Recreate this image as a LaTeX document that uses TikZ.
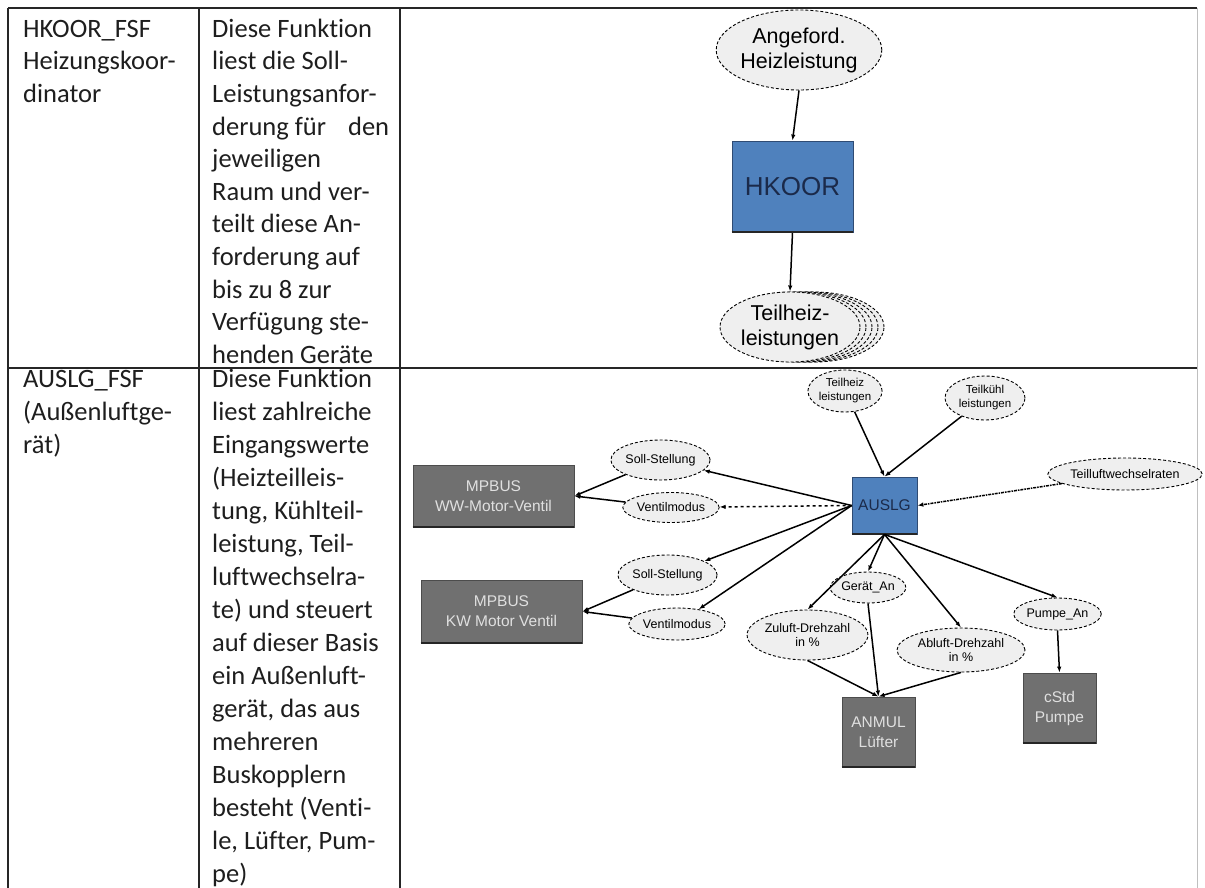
\documentclass[tikz,border=0pt]{standalone}
\usepackage{fontspec}
\setmainfont{Carlito}[Ligatures=NoCommon]
\newfontfamily\diagfont{Liberation Sans}
\usetikzlibrary{arrows.meta,shapes.geometric}

\definecolor{boxblue}{HTML}{4F81BD}
\definecolor{boxblueedge}{HTML}{2F4B73}
\definecolor{boxgray}{HTML}{707070}
\definecolor{ovalfill}{HTML}{EFEFEF}
\definecolor{inktext}{HTML}{1E1E1E}
\definecolor{navytext}{HTML}{1B2A4A}

\begin{document}
\begin{tikzpicture}[x=1pt,y=-1pt,
  rule/.style={line width=1.4pt, draw=black!85},
  celltext/.style={anchor=north west, align=left, inner sep=0pt, text=inktext},
  oval/.style={ellipse, draw=black, densely dashed, line width=0.9pt, fill=ovalfill,
    inner sep=0pt, align=center, font=\diagfont\fontsize{12.5}{14.5}\selectfont},
  bigoval/.style={oval, font=\diagfont\fontsize{21.5}{25}\selectfont},
  bluebox/.style={rectangle, draw=boxblueedge, line width=0.8pt, fill=boxblue,
    text=navytext, inner sep=0pt},
  graybox/.style={rectangle, draw=black!70, line width=0.8pt, fill=boxgray,
    text=white!88!black, inner sep=0pt, align=center,
    font=\diagfont\fontsize{15.5}{20}\selectfont},
  baseedge/.style={line width=2pt, draw=black!85},
  link/.style={line width=1.5pt, draw=black},
  flow/.style={link, -{Latex[length=6pt,width=4.5pt]}},
]
\useasboundingbox (0,0) rectangle (1205,888);

% table grid
\draw[rule] (8,8) -- (1197,8);
\draw[rule] (8,368) -- (1197,368);
\draw[rule] (8,8) -- (8,888);
\draw[rule] (199,8) -- (199,888);
\draw[rule] (400,8) -- (400,888);
\draw[line width=1pt, black!25] (1197,8) -- (1197,888);

% first row: text cells (first baseline at y = 37)
\node[celltext, font=\fontsize{26.5}{32.6}\selectfont] (name1) at (23,14.2)
  {\strut HKOOR\_FSF\\Heizungskoor-\\dinator};
\node[celltext, font=\fontsize{26.5}{32.6}\selectfont] (desc1) at (212,14.2)
  {\strut Diese Funktion\\liest die Soll-\\Leistungsanfor-\\derung für\hspace{22pt}den\\jeweiligen\\Raum und ver-\\teilt diese An-\\forderung auf\\bis zu 8 zur\\Verfügung ste-\\henden Geräte};

% second row: text cells (first baseline at y = 387)
\node[celltext, font=\fontsize{26.5}{33}\selectfont] (name2) at (23,363.9)
  {\strut AUSLG\_FSF\\(Außenluftge-\\rät)};
\node[celltext, font=\fontsize{26.5}{33}\selectfont] (desc2) at (212,363.9)
  {\strut Diese Funktion\\liest zahlreiche\\Eingangswerte\\(Heizteilleis-\\tung, Kühlteil-\\leistung, Teil-\\luftwechselra-\\te) und steuert\\auf dieser Basis\\ein Außenluft-\\gerät, das aus\\mehreren\\Buskopplern\\besteht (Venti-\\le, Lüfter, Pum-\\pe)};

% first row: heating coordinator
\node[bigoval, minimum width=158pt, minimum height=80pt] (angef) at (799,50)
  {Angeford.\\Heizleistung};
\node[bluebox, minimum width=121pt, minimum height=91pt,
  font=\diagfont\fontsize{26}{30}\selectfont] (hkoor) at (792.5,186.5) {HKOOR};
\foreach \dx in {24,18,12,6}
  \node[bigoval, minimum width=140pt, minimum height=70pt] (stack\dx) at (790+\dx,327) {};
\node[bigoval, minimum width=140pt, minimum height=70pt] (teilheizA) at (790,327)
  {Teilheiz-\\leistungen};
\draw[flow] (angef.south) -- (hkoor.north);
\draw[flow] (hkoor.south) -- (teilheizA.north);

% second row: outdoor air unit
\node[oval, minimum width=74pt, minimum height=42pt,
  font=\diagfont\fontsize{11.5}{14}\selectfont] (theiz) at (845,391) {Teilheiz\\leistungen};
\node[oval, minimum width=80pt, minimum height=44pt,
  font=\diagfont\fontsize{11.5}{14}\selectfont] (tkuehl) at (985,398) {Teilkühl\\leistungen};
\node[oval, minimum width=121pt, minimum height=32pt] (tluft) at (1125,474) {Teilluftwechselraten};
\node[bluebox, minimum width=65pt, minimum height=57pt,
  font=\diagfont\fontsize{15.5}{18}\selectfont] (auslg) at (884.5,505.5) {AUSLG};

\node[graybox, minimum width=161pt, minimum height=62pt] (wwv) at (493.5,496) {MPBUS\\WW-Motor-Ventil};
\node[oval, minimum width=79pt, minimum height=40pt] (wwsoll) at (660.5,460) {Soll-Stellung};
\node[oval, minimum width=82pt, minimum height=30pt] (wwmod) at (671,507.5) {Ventilmodus};

\node[graybox, minimum width=161pt, minimum height=63pt] (kwv) at (501.5,611.5) {MPBUS\\KW Motor Ventil};
\node[oval, minimum width=79pt, minimum height=40pt] (kwsoll) at (667.5,575) {Soll-Stellung};
\node[oval, minimum width=76pt, minimum height=32pt] (kwmod) at (677,624) {Ventilmodus};

\node[oval, minimum width=60pt, minimum height=31pt] (geraet) at (868,587.5) {Gerät\_An};
\node[oval, minimum width=119pt, minimum height=50pt] (zuluft) at (807.5,635) {Zuluft-Drehzahl\\in \%};
\node[oval, minimum width=128pt, minimum height=44pt] (abluft) at (961,650) {Abluft-Drehzahl\\in \%};
\node[oval, minimum width=79pt, minimum height=32pt] (pumpan) at (1057.5,614) {Pumpe\_An};

\node[graybox, minimum width=73pt, minimum height=70pt] (anmul) at (878.5,732) {ANMUL\\Lüfter};
\node[graybox, minimum width=73pt, minimum height=70pt] (cstd) at (1059.5,708) {cStd\\Pumpe};

\foreach \b in {hkoor,auslg,wwv,kwv,anmul,cstd}
  \draw[baseedge] (\b.south west) -- (\b.south east);

% inputs
\draw[flow] (theiz) -- (auslg.north);
\draw[flow] (tkuehl) -- (auslg.north);
\draw[flow, densely dashdotted] (tluft) -- (auslg.east);
% valve outputs
\draw[flow] (auslg.west) -- (wwsoll);
\draw[flow, dashed] (auslg.west) -- (wwmod);
\draw[flow] (auslg.west) -- (kwsoll);
\draw[flow] (auslg.west) -- (kwmod);
\draw[flow] (wwsoll) -- (wwv.east);
\draw[flow] (wwmod) -- (wwv.east);
\draw[flow] (kwsoll) -- (kwv.east);
\draw[flow] (kwmod) -- (kwv.east);
% fan and pump outputs
\draw[flow] (auslg.south) -- (zuluft.north);
\draw[flow] (auslg.south) -- (geraet.north);
\draw[flow] (auslg.south) -- (abluft.north);
\draw[flow] (auslg.south) -- (pumpan.north);
\draw[flow] (zuluft.south) -- (anmul.north);
\draw[flow] (geraet.south) -- (anmul.north);
\draw[flow] (abluft.south) -- (anmul.north);
\draw[flow] (pumpan.south) -- (cstd.north);
\end{tikzpicture}
\end{document}
